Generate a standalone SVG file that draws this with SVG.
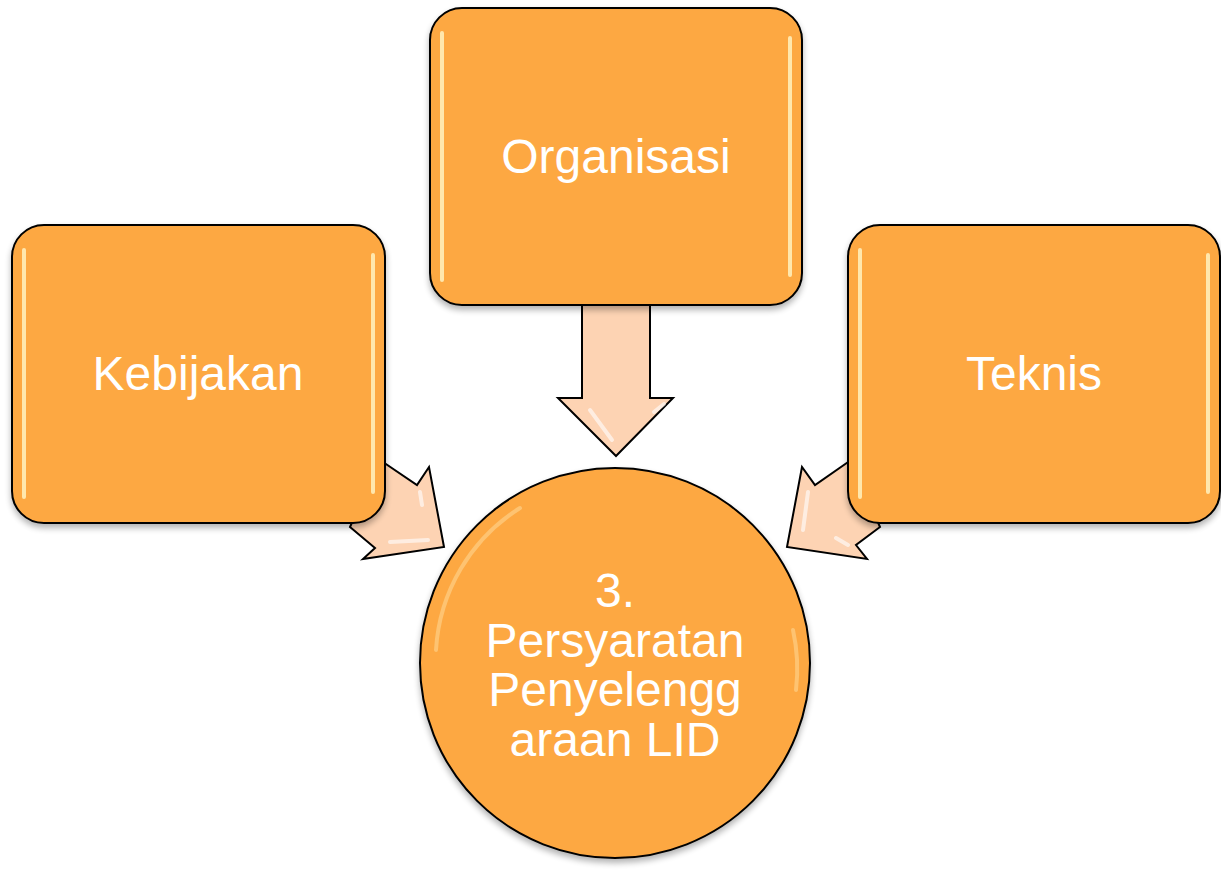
<svg xmlns="http://www.w3.org/2000/svg" width="1221" height="870" viewBox="0 0 1221 870">
<style>
.box{fill:#FDA843;stroke:#000;stroke-width:2}
.arrow{fill:#FDD3B3;stroke:#000;stroke-width:2;stroke-linejoin:miter}
.hl{fill:none;stroke:#FFF6C8;stroke-width:4;stroke-linecap:round;opacity:0.8}
.chl{fill:none;stroke:#FFF6C8;stroke-width:4;stroke-linecap:round;opacity:0.35}
.ahl{fill:none;stroke:#FFFFFF;stroke-width:4;stroke-linecap:round;opacity:0.6}
.lbl{font-family:"Liberation Sans",Arial,sans-serif;font-size:48px;fill:#FFFFFF;text-anchor:middle}
</style>
<defs>
<filter id="sh" x="-10%" y="-10%" width="120%" height="125%">
<feGaussianBlur in="SourceAlpha" stdDeviation="3"/>
<feOffset dx="0" dy="4" result="b"/>
<feComponentTransfer><feFuncA type="linear" slope="0.3"/></feComponentTransfer>
<feMerge><feMergeNode/><feMergeNode in="SourceGraphic"/></feMerge>
</filter>
</defs>
<rect width="1221" height="870" fill="#FFFFFF"/>
<g id="connectors">
<path class="arrow" d="M582,300 L650,300 L650,398 L673,398 L616,456 L558,398 L582,398 Z"/>
<path class="ahl" d="M590,410 L612,440 M654,412 L664,404"/>
<path class="arrow" d="M380,460 L417,485 L429,467 L444,547 L363,559 L375,548 L350,527 Z"/>
<path class="ahl" d="M420,492 L422,505 M390,542 L428,540"/>
<path class="arrow" d="M851,460 L815,485 L802,467 L787,547 L867,559 L856,545 L880,527 Z"/>
<path class="ahl" d="M808,492 L803,530 M836,538 L848,545"/>
</g>
<g id="kebijakan">
<rect class="box" x="12" y="225" width="373" height="298" rx="32" filter="url(#sh)"/>
<path class="hl" d="M24,250 L24,497 M373,255 L373,492"/>
<text class="lbl" x="198" y="390">Kebijakan</text>
</g>
<g id="organisasi">
<rect class="box" x="430" y="8" width="372" height="297" rx="32" filter="url(#sh)"/>
<path class="hl" d="M442,33 L442,280 M790,38 L790,275"/>
<text class="lbl" x="616" y="173">Organisasi</text>
</g>
<g id="teknis">
<rect class="box" x="848" y="225" width="372" height="298" rx="32" filter="url(#sh)"/>
<path class="hl" d="M860,250 L860,497 M1208,255 L1208,492"/>
<text class="lbl" x="1034" y="390">Teknis</text>
</g>
<g id="persyaratan">
<circle class="box" cx="615" cy="663" r="195" filter="url(#sh)"/>
<path class="chl" d="M436,650 A180,180 0 0 1 520,508"/>
<path class="chl" d="M793,630 A180,180 0 0 1 796,690"/>
<text class="lbl" x="615" y="607">3.</text>
<text class="lbl" x="615" y="657">Persyaratan</text>
<text class="lbl" x="615" y="706">Penyelengg</text>
<text class="lbl" x="615" y="756">araan LID</text>
</g>
</svg>
